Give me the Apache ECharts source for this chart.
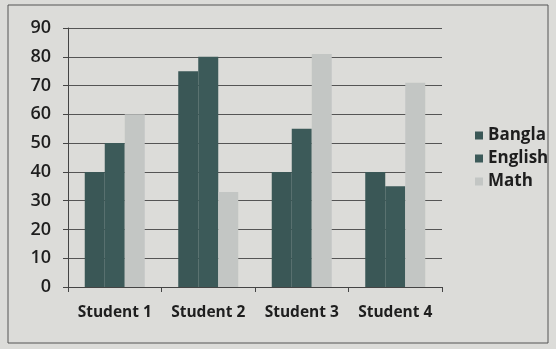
<!DOCTYPE html>
<html>
<head>
<meta charset="utf-8">
<script src="https://cdn.jsdelivr.net/npm/echarts@6/dist/echarts.min.js"></script>
<style>
html, body { margin: 0; padding: 0; background: #d9d9d6; }
#chart { width: 556px; height: 349px; }
</style>
</head>
<body>
<div id="chart"></div>
<script>
// categories and scores
var students = ['Student 1', 'Student 2', 'Student 3', 'Student 4'];
var bangla = [40, 75, 40, 40];
var english = [50, 80, 55, 35];
var math = [60, 33, 81, 71];

var myChart = echarts.init(document.getElementById('chart'));
var option = {
	backgroundColor: '#dcdcd9',
	textStyle: { fontFamily: 'Open Sans' },
	graphic: [{
		type: 'rect',
		shape: { x: 8, y: 5, width: 540, height: 338 },
		style: { fill: 'none', stroke: '#555', lineWidth: 1 }
	}],
	grid: { left: 68, right: 114, top: 28, bottom: 62 },
	legend: {
		orient: 'vertical',
		left: 470,
		top: 122,
		itemWidth: 8,
		itemHeight: 8,
		itemGap: 6,
		icon: 'rect',
		textStyle: { fontSize: 17, fontWeight: 'bold', color: '#1e1e1e' },
		data: ['Bangla', 'English', 'Math']
	},
	xAxis: {
		type: 'category',
		data: students,
		axisLine: { lineStyle: { color: '#444' } },
		axisTick: { show: true, length: 5, lineStyle: { color: '#444' } },
		axisLabel: { interval: 0, fontSize: 15.5, fontWeight: 'bold', color: '#1e1e1e', margin: 18 }
	},
	yAxis: {
		type: 'value',
		min: 0,
		max: 90,
		interval: 10,
		axisLine: { show: true, lineStyle: { color: '#444' } },
		axisTick: { show: true, length: 5, lineStyle: { color: '#444' } },
		axisLabel: { fontSize: 18, fontWeight: 600, color: '#1e1e1e', margin: 17 },
		splitLine: { lineStyle: { color: '#555', width: 1 } }
	},
	series: [{
		name: 'Bangla',
		type: 'bar',
		data: bangla,
		barWidth: 20,
		barGap: '0%',
		itemStyle: { color: '#3a5756' }
	}, {
		name: 'English',
		type: 'bar',
		data: english,
		barWidth: 20,
		barGap: '0%',
		itemStyle: { color: '#3c5a59' }
	}, {
		name: 'Math',
		type: 'bar',
		data: math,
		barWidth: 20,
		barGap: '0%',
		itemStyle: { color: '#c3c6c4' }
	}]
};
myChart.setOption(option);
</script>
</body>
</html>
